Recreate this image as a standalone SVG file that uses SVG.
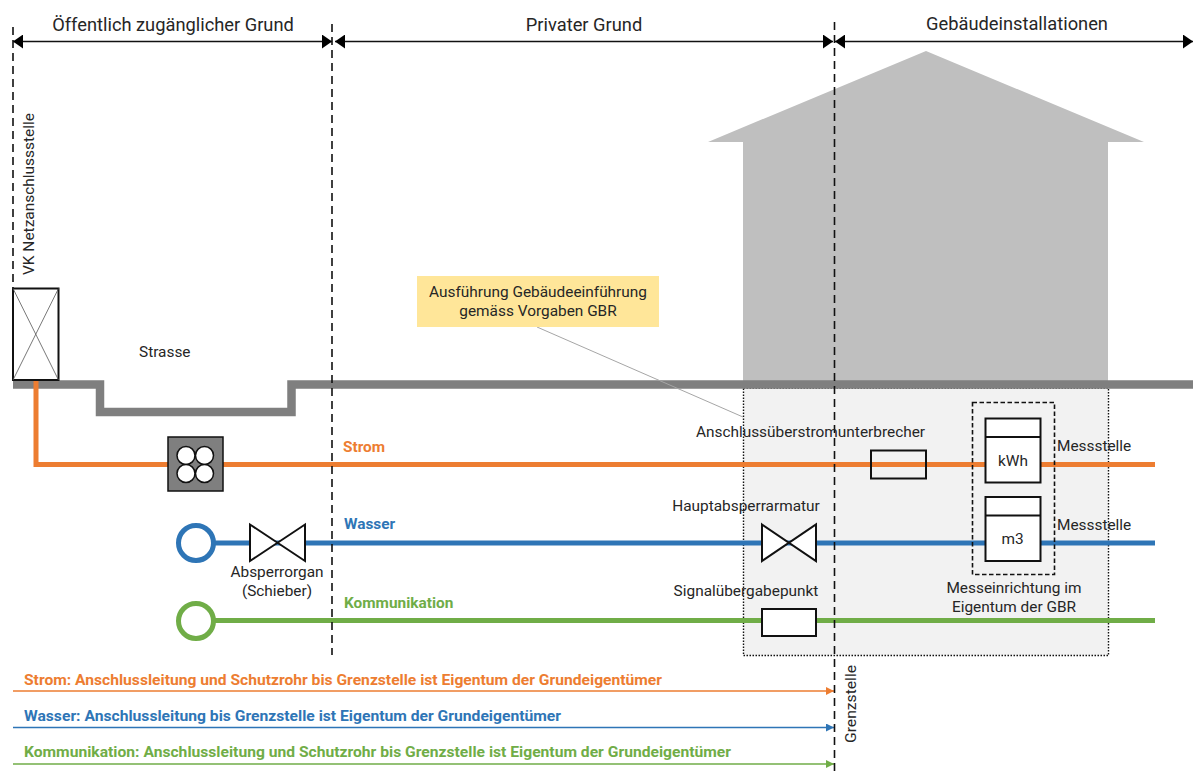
<svg xmlns="http://www.w3.org/2000/svg" width="1193" height="776" viewBox="0 0 1193 776">
<style>
text{font-family:"Roboto","Liberation Sans",sans-serif;font-size:15.4px;fill:#262626}
.h{font-size:18.3px}
.b{font-weight:700;font-size:15.4px}
.or{fill:#ed7d31}.bl{fill:#2e75b6}.gr{fill:#70ad47}
.k{fill:#fff;stroke:#111;stroke-width:2}
.dash{fill:none;stroke:#111;stroke-width:1.6;stroke-dasharray:8 5}
.pipe{fill:none;stroke-width:5}
</style>
<defs>
<marker id="ak" viewBox="0 0 10 14" refX="10" refY="7" markerWidth="10" markerHeight="14" markerUnits="userSpaceOnUse" orient="auto-start-reverse"><path d="M0 0L10 7L0 14Z" fill="#000"/></marker>
<marker id="ao" viewBox="0 0 8 8" refX="8" refY="4" markerWidth="8" markerHeight="8" markerUnits="userSpaceOnUse" orient="auto"><path d="M0 0L8 4L0 8Z" fill="#ed7d31"/></marker>
<marker id="ab" viewBox="0 0 8 8" refX="8" refY="4" markerWidth="8" markerHeight="8" markerUnits="userSpaceOnUse" orient="auto"><path d="M0 0L8 4L0 8Z" fill="#2e75b6"/></marker>
<marker id="ag" viewBox="0 0 8 8" refX="8" refY="4" markerWidth="8" markerHeight="8" markerUnits="userSpaceOnUse" orient="auto"><path d="M0 0L8 4L0 8Z" fill="#70ad47"/></marker>
</defs>
<g id="haus"><path d="M708 142L926 51L1144 142H1108V381H743V142Z" fill="#bfbfbf"/></g>
<g id="gebaeudebereich"><rect x="743.500" y="388" width="365" height="267.500" fill="#f2f2f2" stroke="#111" stroke-width="1.400" stroke-dasharray="1.500 1.500"/></g>
<g id="strasse"><path d="M13 384.500H100V412H291.500V384.500H1193" fill="none" stroke="#7f7f7f" stroke-width="8.500"/><text x="139" y="357">Strasse</text></g>
<g id="connectors">
<path class="pipe" d="M36 380V464.500H1155" stroke="#ed7d31"/>
<path class="pipe" d="M214 543H1155" stroke="#2e75b6"/>
<path class="pipe" d="M214 620.500H1155" stroke="#70ad47"/>
<path d="M537 327L743 417" fill="none" stroke="#a6a6a6"/>
<path d="M13 691H834" stroke="#ed7d31" stroke-width="1.500" marker-end="url(#ao)"/>
<path d="M13 727.500H834" stroke="#2e75b6" stroke-width="1.500" marker-end="url(#ab)"/>
<path d="M13 764H834" stroke="#70ad47" stroke-width="1.500" marker-end="url(#ag)"/>
<path d="M13 41.500H332" stroke="#111" stroke-width="1.600" marker-start="url(#ak)" marker-end="url(#ak)"/>
<path d="M335 41.500H833" stroke="#111" stroke-width="1.600" marker-start="url(#ak)" marker-end="url(#ak)"/>
<path d="M835 41.500H1193" stroke="#111" stroke-width="1.600" marker-start="url(#ak)" marker-end="url(#ak)"/>
<path class="dash" d="M13 27V288"/>
<path class="dash" d="M332 24V655"/>
<path class="dash" d="M834.500 22V776"/>
</g>
<g id="vk"><rect x="13" y="288.500" width="45.500" height="91.500" class="k"/><path d="M13 288.500L58.500 380M58.500 288.500L13 380" stroke="#555" stroke-width="0.800"/><text transform="translate(34 275) rotate(-90)" textLength="162" lengthAdjust="spacingAndGlyphs">VK Netzanschlussstelle</text></g>
<g id="schutzrohr"><rect x="168" y="437" width="55" height="54" fill="#7f7f7f" stroke="#111" stroke-width="1.500"/><g fill="#fff" stroke="#111" stroke-width="1.500"><circle cx="186" cy="455.500" r="9"/><circle cx="204.500" cy="455.500" r="9"/><circle cx="186" cy="473.500" r="9"/><circle cx="204.500" cy="473.500" r="9"/></g></g>
<g id="wasserquelle"><circle cx="196" cy="543" r="17.500" fill="#fff" stroke="#2e75b6" stroke-width="5"/></g>
<g id="kommquelle"><circle cx="196" cy="621" r="17.500" fill="#fff" stroke="#70ad47" stroke-width="5"/></g>
<g id="absperrorgan"><path class="k" d="M250 524.500L305 561V524.500L250 561Z"/><text x="277" y="577" text-anchor="middle">Absperrorgan</text><text x="277" y="596" text-anchor="middle">(Schieber)</text></g>
<g id="hauptabsperr"><path class="k" d="M762 524.500L816 561V524.500L762 561Z"/><text x="746" y="511" text-anchor="middle">Hauptabsperrarmatur</text></g>
<g id="signal"><rect x="762" y="609" width="54" height="27" class="k"/><text x="746" y="596" text-anchor="middle">Signalübergabepunkt</text></g>
<g id="ueberstrom"><rect x="871" y="450.500" width="55" height="28" fill="none" stroke="#111" stroke-width="2"/><text x="810.500" y="437" text-anchor="middle">Anschlussüberstromunterbrecher</text></g>
<g id="messeinrichtung"><rect x="972.500" y="402.500" width="82" height="172" fill="none" stroke="#111" stroke-width="1.600" stroke-dasharray="4.500 2.500"/><text x="1014" y="593" text-anchor="middle">Messeinrichtung im</text><text x="1014" y="612" text-anchor="middle">Eigentum der GBR</text></g>
<g id="kwh"><rect x="985.500" y="418.500" width="55" height="64" class="k"/><path d="M985.500 437H1040.500" stroke="#111" stroke-width="2"/><text x="1013" y="466" text-anchor="middle">kWh</text><text x="1057" y="451">Messstelle</text></g>
<g id="m3"><rect x="985.500" y="497" width="55" height="64" class="k"/><path d="M985.500 515.500H1040.500" stroke="#111" stroke-width="2"/><text x="1012.500" y="544" text-anchor="middle">m3</text><text x="1057" y="530">Messstelle</text></g>
<g id="hinweis"><rect x="417" y="276" width="242" height="51" fill="#ffe699"/><text x="538" y="297" text-anchor="middle">Ausführung Gebäudeeinführung</text><text x="538" y="316" text-anchor="middle">gemäss Vorgaben GBR</text></g>
<g id="labels">
<text class="h" x="173" y="31" text-anchor="middle">Öffentlich zugänglicher Grund</text>
<text class="h" x="584" y="31" text-anchor="middle">Privater Grund</text>
<text class="h" x="1017" y="30" text-anchor="middle">Gebäudeinstallationen</text>
<text class="b or" x="343" y="452">Strom</text>
<text class="b bl" x="344" y="529">Wasser</text>
<text class="b gr" x="344" y="608">Kommunikation</text>
<text transform="translate(856 743) rotate(-90)" textLength="78" lengthAdjust="spacingAndGlyphs">Grenzstelle</text>
<text class="b or" x="24" y="685" style="font-size:14px" textLength="638" lengthAdjust="spacingAndGlyphs">Strom: Anschlussleitung und Schutzrohr bis Grenzstelle ist Eigentum der Grundeigentümer</text>
<text class="b bl" x="24" y="721" style="font-size:14px" textLength="537" lengthAdjust="spacingAndGlyphs">Wasser: Anschlussleitung bis Grenzstelle ist Eigentum der Grundeigentümer</text>
<text class="b gr" x="24" y="757" style="font-size:14px" textLength="707" lengthAdjust="spacingAndGlyphs">Kommunikation: Anschlussleitung und Schutzrohr bis Grenzstelle ist Eigentum der Grundeigentümer</text>
</g>
</svg>
